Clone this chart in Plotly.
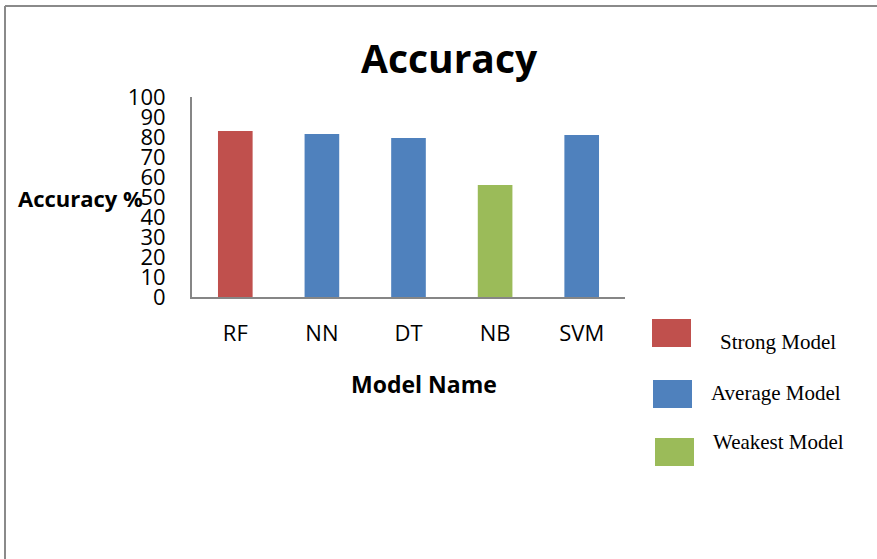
import plotly.graph_objects as go

# Model accuracy data
models = ["RF", "NN", "DT", "NB", "SVM"]
accuracy = [83, 81.5, 79.5, 56, 81]
groups = ["Strong Model", "Average Model", "Average Model", "Weakest Model", "Average Model"]
group_colors = {"Strong Model": "#C0504D", "Average Model": "#4F81BD", "Weakest Model": "#9BBB59"}
y_ticks = list(range(0, 101, 10))

W, H = 877, 559
L, R, T, B = 192, 252, 97, 262
PW, PH = W - L - R, H - T - B

fig = go.Figure()
fig.add_trace(go.Bar(
    x=models, y=accuracy,
    marker=dict(color=[group_colors[g] for g in groups], line=dict(width=0)),
    width=0.4, showlegend=False,
))

sans = "Open Sans, Arial, sans-serif"
serif = "Liberation Serif, Times New Roman, serif"

fig.update_layout(
    width=W, height=H,
    margin=dict(l=L, r=R, t=T, b=B),
    paper_bgcolor="white", plot_bgcolor="white",
    showlegend=False,
    xaxis=dict(
        showline=True, linecolor="#868686", linewidth=2,
        showgrid=False, ticks="", ticklabelstandoff=16,
        tickfont=dict(family=sans, size=22, color="black"),
    ),
    yaxis=dict(
        range=[0, 100], tickvals=y_ticks,
        showline=True, linecolor="#868686", linewidth=2,
        showgrid=False, zeroline=False, ticks="", ticklabelstandoff=20,
        tickfont=dict(family=sans, size=22, color="black"),
    ),
)

# Convert figure pixel positions into paper (plot-area) fractions
def px_x(x):
    return (x - L) / PW

def px_y(y):
    return (H - B - y) / PH

# Chart title and axis titles
fig.add_annotation(text="<b>Accuracy</b>", xref="paper", yref="paper",
                   x=px_x(449), y=px_y(58), showarrow=False,
                   font=dict(family=sans, size=39, color="black"),
                   xanchor="center", yanchor="middle")
fig.add_annotation(text="<b>Accuracy %</b>", xref="paper", yref="paper",
                   x=px_x(16), y=px_y(198), showarrow=False,
                   font=dict(family=sans, size=22, color="black"),
                   xanchor="left", yanchor="middle")
fig.add_annotation(text="<b>Model Name</b>", xref="paper", yref="paper",
                   x=px_x(424), y=px_y(384), showarrow=False,
                   font=dict(family=sans, size=23, color="black"),
                   xanchor="center", yanchor="middle")

# Custom legend: colour swatches with serif labels
legend_items = [
    ("Strong Model", (652, 319, 691, 347), (718, 342)),
    ("Average Model", (653, 380, 692, 408), (709, 393)),
    ("Weakest Model", (655, 438, 694, 466), (711, 442)),
]
for name, (x0, y0, x1, y1), (tx, ty) in legend_items:
    fig.add_shape(type="rect", xref="paper", yref="paper",
                  x0=px_x(x0), x1=px_x(x1), y0=px_y(y1), y1=px_y(y0),
                  fillcolor=group_colors[name], line=dict(width=0))
    fig.add_annotation(text=name, xref="paper", yref="paper",
                       x=px_x(tx), y=px_y(ty), showarrow=False,
                       font=dict(family=serif, size=21, color="black"),
                       xanchor="left", yanchor="middle")

# Outer frame (top and left edges)
fig.add_shape(type="line", xref="paper", yref="paper",
              x0=px_x(5), x1=px_x(W), y0=px_y(6), y1=px_y(6),
              line=dict(color="#8a8a8a", width=2))
fig.add_shape(type="line", xref="paper", yref="paper",
              x0=px_x(5), x1=px_x(5), y0=px_y(H), y1=px_y(6),
              line=dict(color="#8a8a8a", width=2))

fig.write_html("out.html")
